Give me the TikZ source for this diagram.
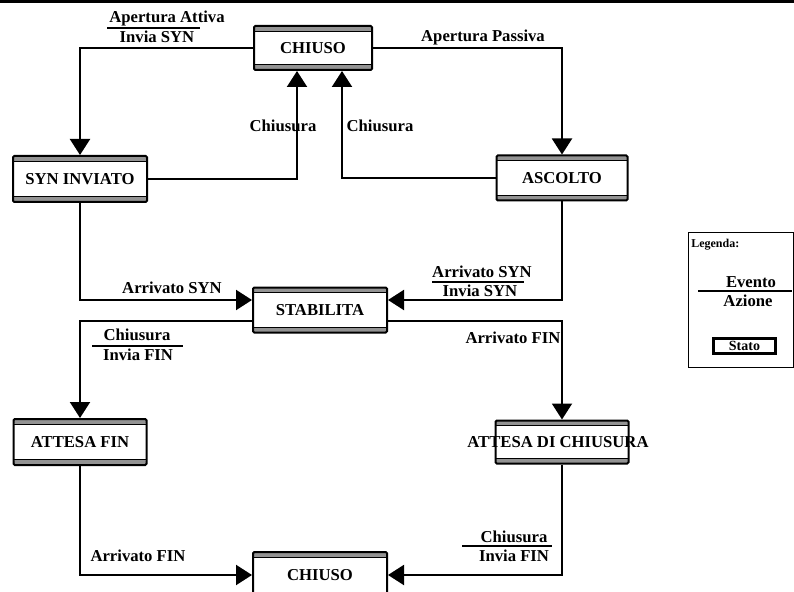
\documentclass[tikz,border=0pt]{standalone}
\usepackage{fontspec}
\setmainfont{Liberation Serif}
\usetikzlibrary{arrows.meta}
\begin{document}
\begin{tikzpicture}[x=0.75pt,y=-0.75pt,
  statebox/.style={draw, line width=1.5pt, rounded corners=1pt, fill=white, inner sep=0pt,
    font=\fontsize{12.5}{14}\bfseries,
    path picture={
      \fill[gray!85] (path picture bounding box.north west) rectangle ([yshift=-3.8pt]path picture bounding box.north east);
      \draw[line width=0.8pt] ([yshift=-3.8pt]path picture bounding box.north west) -- ([yshift=-3.8pt]path picture bounding box.north east);
      \fill[gray!85] (path picture bounding box.south west) rectangle ([yshift=3.8pt]path picture bounding box.south east);
      \draw[line width=0.8pt] ([yshift=3.8pt]path picture bounding box.south west) -- ([yshift=3.8pt]path picture bounding box.south east);
    }},
  lbl/.style={font=\fontsize{12.5}{14}\bfseries, inner sep=0pt},
  conn/.style={line width=1.5pt, -{Triangle[length=12pt,width=15pt]}},
  frac/.style={line width=1.1pt}]
\useasboundingbox (0,0) rectangle (794,592);
\fill (0,0) rectangle (794,3.5);

% states
\node[statebox, minimum width=88.5pt, minimum height=33pt] (chiusoT) at (313,48) {CHIUSO};
\node[statebox, minimum width=100.5pt, minimum height=34.5pt] (syn) at (80,179) {SYN INVIATO};
\node[statebox, minimum width=98.25pt, minimum height=33.75pt] (ascolto) at (562,178) {ASCOLTO};
\node[statebox, minimum width=100.5pt, minimum height=33.75pt] (stab) at (320,310) {STABILITA};
\node[statebox, minimum width=99.75pt, minimum height=34.5pt] (attfin) at (80,442) {ATTESA FIN};
\node[statebox, minimum width=99.75pt, minimum height=32.25pt] (attchi) at (562,442) {\makebox[0pt]{\hspace*{-6pt}ATTESA DI CHIUSURA}};
\node[statebox, minimum width=100.5pt, minimum height=34.5pt] (chiusoB) at (320,575) {CHIUSO};

% connectors
\draw[conn] (chiusoT.west) -| (syn.north);
\draw[conn] (chiusoT.east) -| (ascolto.north);
\draw[conn] (syn.east) -| ([xshift=-12pt]chiusoT.south);
\draw[conn] (ascolto.west) -| ([xshift=21.75pt]chiusoT.south);
\draw[conn] (syn.south) |- ([yshift=7.5pt]stab.west);
\draw[conn] (ascolto.south) |- ([yshift=7.5pt]stab.east);
\draw[conn] ([yshift=-8.25pt]stab.west) -| (attfin.north);
\draw[conn] ([yshift=-8.25pt]stab.east) -| (attchi.north);
\draw[conn] (attfin.south) |- (chiusoB.west);
\draw[conn] (attchi.south) |- (chiusoB.east);

% labels
\node[lbl] (l1a) at (167,18) {Apertura Attiva};
\node[lbl] (l1b) at (157,37) {Invia SYN};
\draw[frac] (107,28) -- (200,28);
\node[lbl] (l2) at (483,37) {Apertura Passiva};
\node[lbl] (l3) at (283,126) {Chiusura};
\node[lbl] (l4) at (380,126) {Chiusura};
\node[lbl] (l5) at (172,288) {Arrivato SYN};
\node[lbl] (l6a) at (482,272) {Arrivato SYN};
\node[lbl] (l6b) at (480,291) {Invia SYN};
\draw[frac] (432,282) -- (524,282);
\node[lbl] (l7a) at (137,335) {Chiusura};
\node[lbl] (l7b) at (138,355) {Invia FIN};
\draw[frac] (92,346) -- (183,346);
\node[lbl] (l8) at (513,338) {Arrivato FIN};
\node[lbl] (l9) at (138,556) {Arrivato FIN};
\node[lbl] (l10a) at (514,537) {Chiusura};
\node[lbl] (l10b) at (514,556) {Invia FIN};
\draw[frac] (462,546) -- (552,546);

% legend
\draw[line width=0.75pt] (688,233) rectangle (793,367);
\node[font=\fontsize{9}{10}\bfseries, inner sep=0pt, anchor=west] (lg) at (691,245) {Legenda:};
\node[lbl] (ev) at (751,282) {Evento};
\draw[frac] (698,291) -- (792,291);
\node[lbl] (az) at (748,301) {Azione};
\node[draw, line width=2.25pt, minimum width=46.5pt, minimum height=11.25pt, inner sep=0pt,
  font=\fontsize{10.5}{12}\bfseries] (st) at (744.5,346) {Stato};
\end{tikzpicture}
\end{document}
